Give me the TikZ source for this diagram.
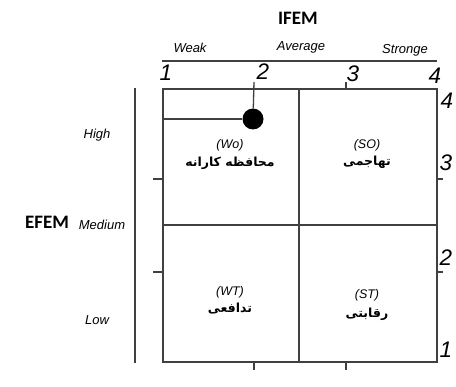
\documentclass[tikz,border=0pt]{standalone}
\usepackage{fontspec}
\setmainfont{Liberation Sans}
\newfontfamily\titlefont{Carlito}
\newfontfamily\arabicfont[Script=Arabic]{DejaVu Sans}
\TeXXeTstate=1
\usepackage{tikz}
\usetikzlibrary{positioning}

\begin{document}
\begin{tikzpicture}[
  x=1pt, y=-1pt,
  frame/.style={draw=black!75, line width=1.3pt},
  axisname/.style={font=\titlefont\bfseries\fontsize{19}{19}\selectfont, inner sep=0pt},
  scalelbl/.style={font=\itshape\fontsize{13}{13}\selectfont, inner sep=0pt},
  numlbl/.style={font=\itshape\fontsize{22.5}{22.5}\selectfont, inner sep=0pt},
  celltag/.style={font=\itshape\fontsize{12.5}{12.5}\selectfont, inner sep=0pt},
  cellname/.style={font=\arabicfont\bfseries\fontsize{12.5}{14}\selectfont, inner sep=0pt},
  dotnode/.style={circle, fill=black, minimum size=21pt, inner sep=0pt}
]
\useasboundingbox (0,0) rectangle (456,387);

% matrix
\draw[frame] (163,89) rectangle (437,362);
\draw[frame] (299,89) -- (299,362);
\draw[frame] (163,225) -- (437,225);

% IFEM axis
\node[axisname] (ifem) at (298,18) {IFEM};
\node[scalelbl] (weak) at (190,48) {Weak};
\node[scalelbl] (average) at (301,47) {Average};
\node[scalelbl] (stronge) at (405,50) {Stronge};
\draw[frame] (162,61) -- (437,61);
\node[numlbl] (x1) at (166,73) {1};
\node[numlbl] (x2) at (263,72) {2};
\node[numlbl] (x3) at (353,74) {3};
\node[numlbl] (x4) at (435,76) {4};
\draw[frame] (346,82) -- (346,89);
\draw[frame] (254,362) -- (254,370);
\draw[frame] (346,362) -- (346,370);

% EFEM axis
\node[axisname] (efem) at (47,222) {EFEM};
\node[scalelbl] (high) at (97,135) {High};
\node[scalelbl] (medium) at (102,225) {Medium};
\node[scalelbl] (low) at (97,320) {Low};
\draw[frame] (135,88) -- (135,363);
\node[numlbl] (y4) at (447,101) {4};
\node[numlbl] (y3) at (446,163) {3};
\node[numlbl] (y2) at (446,258) {2};
\node[numlbl] (y1) at (446,350) {1};
\draw[frame] (153,179) -- (163,179);
\draw[frame] (153,272) -- (163,272);
\draw[frame] (437,179) -- (443,179);
\draw[frame] (437,272) -- (443,272);

% cells
\node[celltag] (wo) at (230,145) {(Wo)};
\node[cellname, below=6pt of wo] (woname) {\beginR محافظه کارانه\endR};
\node[celltag] (so) at (367,145) {(SO)};
\node[cellname, below=5pt of so] (soname) {\beginR تهاجمی\endR};
\node[celltag] (wt) at (230,292) {(WT)};
\node[cellname, below=5pt of wt] (wtname) {\beginR تدافعی\endR};
\node[celltag] (st) at (367,295) {(ST)};
\node[cellname, below=7pt of st] (stname) {\beginR رقابتی\endR};

% position
\node[dotnode] (pos) at (253,119) {};
\coordinate (tick2) at (254,82);
\coordinate (edge3) at (163,119);
\draw[frame] (tick2) -- (pos);
\draw[frame] (edge3) -- (pos);
\end{tikzpicture}
\end{document}
